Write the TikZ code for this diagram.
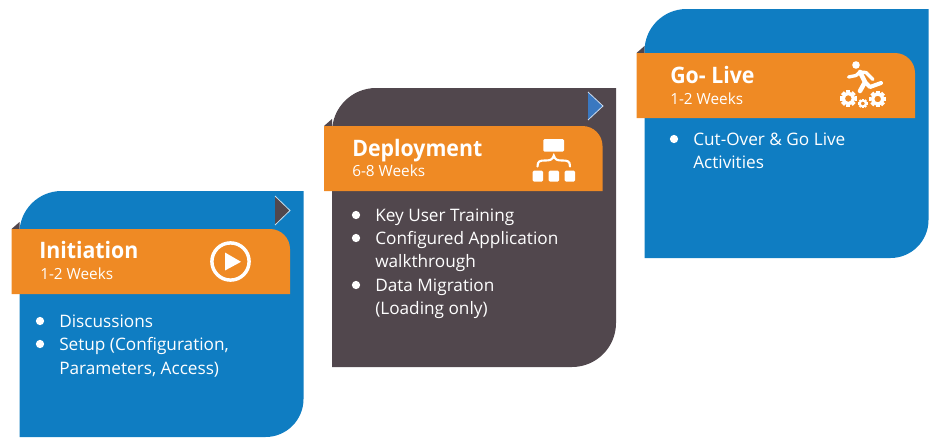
\documentclass[tikz,border=0pt]{standalone}
\usepackage{xcolor}
\usepackage{fontspec}
\setmainfont{Open Sans}
\newfontfamily\titlefont[FakeStretch=0.94]{Open Sans}
\definecolor{cardblue}{HTML}{0F7DC2}
\definecolor{carddark}{HTML}{51474D}
\definecolor{bannerorange}{HTML}{EF8A24}
\definecolor{arrowblue}{HTML}{3A78C0}
\tikzset{
	titletext/.style={anchor=base west, inner sep=0pt, text=white, font=\titlefont\fontsize{17}{20}\selectfont\bfseries},
	weekstext/.style={anchor=base west, inner sep=0pt, text=white, font=\fontsize{11.5}{14}\selectfont},
	itemtext/.style={anchor=base west, inner sep=0pt, text=white, font=\fontsize{12.9}{15}\selectfont},
	bulletdot/.style={circle, fill=white, inner sep=0pt, minimum size=6.2pt},
	iconline/.style={draw=white, line width=2.5pt, line cap=round, line join=round}
}
\begin{document}
\begin{tikzpicture}[x=0.75pt, y=-0.75pt]
	\useasboundingbox (0,0) rectangle (932,437);
	
	% Parameters
	\def\cardwidth{284}
	\def\bannerwidth{278.5}
	\def\bannerheight{65}
	
	% cards: left, top, bottom, radii, colour, banner offset
	\foreach \l/\t/\b/\rtl/\rbr/\c/\o in {19.5/191/437/42/38/cardblue/38, 332/88/367/44/44/carddark/38, 644.5/9/258/42/38/cardblue/44} {
		\fill[carddark] (\l-8,\t+\o) -- (\l,\t+\o-7) -- (\l,\t+\o) -- cycle;
		\fill[\c] (\l,\b) -- (\l,\t+\rtl) arc[start angle=180, end angle=270, radius=\rtl]
		-- (\l+\cardwidth,\t) -- (\l+\cardwidth,\b-\rbr) arc[start angle=0, end angle=90, radius=\rbr] -- cycle;
		% banner
		\fill[bannerorange] (\l-8,\t+\o) -- (\l+\bannerwidth-8-20,\t+\o)
		arc[start angle=270, end angle=360, radius=20] -- (\l+\bannerwidth-8,\t+\o+\bannerheight) -- (\l-8,\t+\o+\bannerheight) -- cycle;
	}
	
	% step arrows
	\fill[carddark] (275,196) -- (290,210.5) -- (275,225) -- cycle;
	\draw[white!75!cardblue, line width=0.6pt] (275,196) -- (290,210.5) -- (275,225);
	\fill[arrowblue] (588,92) -- (603,106) -- (588,120) -- cycle;
	\draw[white!75!arrowblue, line width=0.6pt] (588,92) -- (603,106) -- (588,120);
	
	% Initiation
	\node[titletext] (initiationtitle) at (39,258.5) {Initiation};
	\node[weekstext] (initiationweeks) at (40,279.5) {1-2 Weeks};
	\node[bulletdot] (initiationdota) at (40,321) {};
	\node[bulletdot] (initiationdotb) at (40,344) {};
	\node[itemtext] (discussions) at (59,327) {Discussions};
	\node[itemtext] (setup) at (59,350.5) {Setup (Configuration,};
	\node[itemtext] (parameters) at (59,374) {Parameters, Access)};
	
	% play icon
	\draw[white, line width=2.6pt] (230.5,261.5) circle[radius=18.6];
	\fill[white] (225,252.5) -- (241,261.8) -- (225,270.5) -- cycle;
	
	% Deployment
	\node[titletext] (deploymenttitle) at (352,156) {Deployment};
	\node[weekstext] (deploymentweeks) at (352,176.7) {6-8 Weeks};
	\node[bulletdot] (deploymentdota) at (356,215) {};
	\node[bulletdot] (deploymentdotb) at (356,238) {};
	\node[bulletdot] (deploymentdotc) at (356,285) {};
	\node[itemtext] (training) at (375,221) {Key User Training};
	\node[itemtext] (configured) at (375,244) {Configured Application};
	\node[itemtext] (walkthrough) at (375,267) {walkthrough};
	\node[itemtext] (migration) at (375,291) {Data Migration};
	\node[itemtext] (loading) at (375,314) {(Loading only)};
	
	% hierarchy icon
	\fill[white, rounded corners=1pt] (543.3,139) rectangle (564,151.7);
	\foreach \x in {532.7,548.7,564.7} {
		\fill[white, rounded corners=1pt] (\x,170.7) rectangle (\x+10.4,181.7);
	}
	\draw[white, line width=1.6pt, line cap=round] (537.5,166.5) .. controls (537.5,161) and (540,160.5) .. (545,160.5)
	.. controls (550,160.5) and (552.5,160) .. (553.8,155.5)
	.. controls (555,160) and (557.5,160.5) .. (562.5,160.5)
	.. controls (567.5,160.5) and (570,161) .. (570,166.5);
	
	% Go-Live
	\node[titletext] (golivetitle) at (670,83) {Go- Live};
	\node[weekstext] (goliveweeks) at (670,104) {1-2 Weeks};
	\node[bulletdot] (golivedot) at (674,139) {};
	\node[itemtext] (cutover) at (693,145) {Cut-Over \& Go Live};
	\node[itemtext] (activities) at (693,168) {Activities};
	
	% runner icon
	\fill[white] (856,65) circle[radius=3.8];
	\draw[iconline] (848.5,77) -- (856,75.5) -- (860,72) -- (866,72.5) -- (873,79.5);
	\draw[iconline, line width=3.4pt] (860,72) -- (865,82) -- (860,91);
	\draw[iconline, line width=3pt] (865,82) -- (870,87) -- (881,83);
	
	% gears
	\foreach \gx/\gy/\gr/\gw in {848.3/98.5/5.2/2.6, 877.7/99/5.2/2.6, 862.8/103.5/3/1.5} {
		\draw[white, line width=\gw pt] (\gx,\gy) circle[radius=\gr];
		\foreach \a in {0,45,...,315} {
			\draw[white, line width=1.2*\gw pt] (\gx,\gy) ++(\a:\gr+0.4*\gw) -- ++(\a:0.8*\gw);
		}
	}
\end{tikzpicture}
\end{document}
